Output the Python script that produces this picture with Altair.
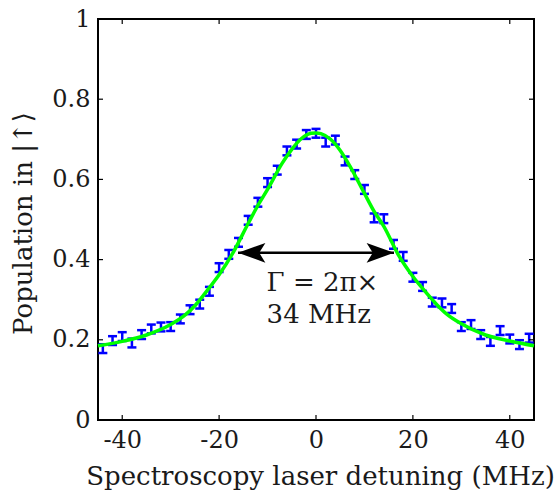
import altair as alt
import pandas as pd

# ---- data ----
detuning = [-44, -42, -40, -38, -36, -34, -32, -30, -28, -26, -24, -22, -20, -18, -16,
            -14, -12, -10, -8, -6, -4, -2, 0, 2, 4, 6, 8, 10, 12, 14,
            16, 18, 20, 22, 24, 26, 28, 30, 32, 34, 36, 38, 40, 42, 44]
population = [0.178, 0.198, 0.208, 0.192, 0.213, 0.227, 0.232, 0.233, 0.252, 0.275, 0.289, 0.321, 0.380, 0.413, 0.443,
              0.498, 0.543, 0.592, 0.623, 0.671, 0.688, 0.712, 0.715, 0.693, 0.698, 0.646, 0.612, 0.575, 0.504, 0.502,
              0.438, 0.408, 0.356, 0.333, 0.294, 0.292, 0.278, 0.233, 0.238, 0.213, 0.196, 0.223, 0.202, 0.188, 0.204]
errors = [0.011, 0.011, 0.011, 0.011, 0.011, 0.011, 0.011, 0.011, 0.011, 0.011, 0.011, 0.011, 0.011, 0.011, 0.011,
          0.011, 0.011, 0.011, 0.011, 0.011, 0.011, 0.011, 0.011, 0.011, 0.011, 0.011, 0.011, 0.011, 0.011, 0.011,
          0.011, 0.011, 0.011, 0.011, 0.011, 0.011, 0.011, 0.011, 0.011, 0.011, 0.011, 0.011, 0.011, 0.011, 0.011]

fit_x = [-45, -40, -35, -30, -27, -25, -22, -20, -17, -14, -12, -10, -7, -5, -3, -1, 0,
         1, 3, 5, 7, 10, 12, 14, 17, 20, 22, 25, 27, 30, 35, 40, 45]
fit_y = [0.185, 0.196, 0.212, 0.238, 0.262, 0.285, 0.330, 0.362, 0.420, 0.490, 0.535, 0.575, 0.640, 0.675, 0.702, 0.715, 0.716,
         0.714, 0.700, 0.672, 0.633, 0.565, 0.520, 0.483, 0.412, 0.358, 0.328, 0.287, 0.264, 0.240, 0.212, 0.197, 0.185]

x_ticks = [-40, -20, 0, 20, 40]
y_ticks = [0, 0.2, 0.4, 0.6, 0.8, 1.0]

arrow_left = -16.1
arrow_right = 16.1
arrow_level = 0.417
note_lines = ["Γ = 2π×", "34 MHz"]
note_x = [-10.2, -10.2]
note_y = [0.321, 0.2425]

# ---- layout ----
W, H = 436, 401
FONT = "DejaVu Serif"
TXT = "#1a1a1a"
xscale = alt.Scale(domain=[-45, 45], nice=False, zero=False)
yscale = alt.Scale(domain=[0, 1], nice=False, zero=False)

df = pd.DataFrame({"x": detuning, "y": population, "e": errors})
df["lo"] = df["y"] - df["e"]
df["hi"] = df["y"] + df["e"]
fit = pd.DataFrame({"x": fit_x, "y": fit_y})
xt = pd.DataFrame({"v": x_ticks})
yt = pd.DataFrame({"v": y_ticks})
arrow = pd.DataFrame({"x": [arrow_left], "x2": [arrow_right], "y": [arrow_level]})
heads = pd.DataFrame({"x": [arrow_left, arrow_right], "y": [arrow_level, arrow_level],
                      "side": ["L", "R"]})
notes = pd.DataFrame({"x": note_x, "y": note_y, "t": note_lines})

XT = "Spectroscopy laser detuning (MHz)"
YT = "Population in |↑⟩"
xaxis = alt.Axis(values=x_ticks, title=XT,
                 labelExpr="datum.value < 0 ? '-' + abs(datum.value) : '' + datum.value",
                 titleX=222, titleY=64, titleBaseline="alphabetic")
yaxis = alt.Axis(values=y_ticks, title=YT, format="~g",
                 titleX=-62, titleY=204)


def X(field):
    return alt.X(field, scale=xscale, axis=xaxis, title=XT)


def Y(field):
    return alt.Y(field, scale=yscale, axis=yaxis, title=YT)


blue = "#0000ff"
green = "#00ff00"

bars = alt.Chart(df).mark_rule(color=blue, strokeWidth=2.5).encode(
    x=X("x:Q"), y=Y("lo:Q"), y2="hi:Q",
)
cap_lo = alt.Chart(df).mark_tick(color=blue, orient="horizontal", size=9, thickness=2.5, opacity=1).encode(
    x=X("x:Q"), y=Y("lo:Q"),
)
cap_hi = alt.Chart(df).mark_tick(color=blue, orient="horizontal", size=9, thickness=2.5, opacity=1).encode(
    x=X("x:Q"), y=Y("hi:Q"),
)
fit_line = alt.Chart(fit).mark_line(color=green, strokeWidth=3.5, interpolate="monotone").encode(
    x=X("x:Q"), y=Y("y:Q"),
)
shaft = alt.Chart(arrow).mark_rule(color="black", strokeWidth=2.5).encode(
    x=X("x:Q"), x2="x2:Q", y=Y("y:Q"),
)
head_l = alt.Chart(heads[heads.side == "L"]).mark_point(
    shape="M0,0 L2,-0.72 L1.55,0 L2,0.72 Z", filled=True, color="black", opacity=1, size=750
).encode(x=X("x:Q"), y=Y("y:Q"))
head_r = alt.Chart(heads[heads.side == "R"]).mark_point(
    shape="M0,0 L-2,-0.72 L-1.55,0 L-2,0.72 Z", filled=True, color="black", opacity=1, size=750
).encode(x=X("x:Q"), y=Y("y:Q"))
note = alt.Chart(notes).mark_text(align="left", baseline="alphabetic", font=FONT, fontSize=26,
                                  color=TXT).encode(
    x=X("x:Q"), y=Y("y:Q"), text="t:N",
)

tick_len = 5
tb = alt.Chart(xt).mark_rule(color="black", strokeWidth=1.2).encode(
    x=X("v:Q"), y=alt.value(H), y2=alt.value(H - tick_len))
tt = alt.Chart(xt).mark_rule(color="black", strokeWidth=1.2).encode(
    x=X("v:Q"), y=alt.value(0), y2=alt.value(tick_len))
tl = alt.Chart(yt).mark_rule(color="black", strokeWidth=1.2).encode(
    y=Y("v:Q"), x=alt.value(0), x2=alt.value(tick_len))
tr = alt.Chart(yt).mark_rule(color="black", strokeWidth=1.2).encode(
    y=Y("v:Q"), x=alt.value(W), x2=alt.value(W - tick_len))

chart = alt.layer(
    bars, cap_lo, cap_hi, fit_line, shaft, head_l, head_r, note, tb, tt, tl, tr
).properties(
    width=W, height=H,
    autosize=alt.AutoSizeParams(type="none"),
    padding={"left": 98, "top": 19, "right": 21, "bottom": 75},
    background="white",
).configure_view(
    stroke="black", strokeWidth=2
).configure_axis(
    grid=False, ticks=False, domain=False,
    labelFont=FONT, labelFontSize=24, labelColor=TXT, labelPadding=8,
    titleFont=FONT, titleFontSize=26, titleFontWeight="normal", titleColor=TXT,
)

chart.save("out.html", embed_options={"renderer": "svg", "actions": False})
